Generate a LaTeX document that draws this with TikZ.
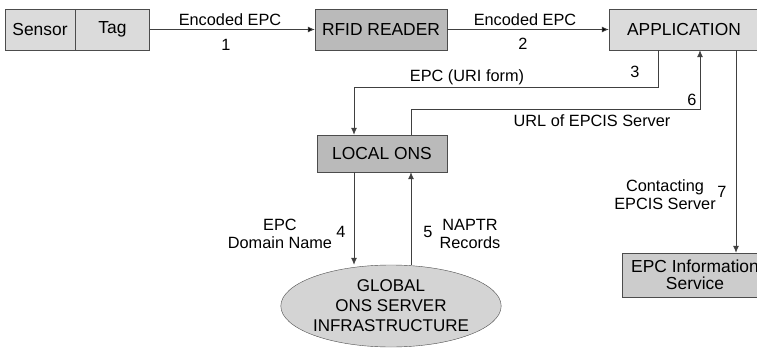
\documentclass[tikz,border=0pt]{standalone}
\usepackage{fontspec}
\setmainfont{Liberation Sans}
\usetikzlibrary{positioning, shapes.geometric, arrows.meta}

\begin{document}
\begin{tikzpicture}[x=1pt, y=-1pt,
	font=\fontsize{16.3}{18}\selectfont,
	b/.style={rectangle, draw=black!70, fill=black!14, minimum height=41pt, inner sep=0pt,
		font=\fontsize{17.4}{17}\selectfont},
	d/.style={b, fill=black!27},
	t/.style={inner sep=0pt, align=center},
	a/.style={->, draw=black!75, line width=0.8pt},
	>={Latex[length=7pt, width=6pt]}]
	\useasboundingbox (0,0) rectangle (757,350);

	\node[b, minimum width=70pt] (sensor) at (40,29.5) {Sensor};
	\node[b, minimum width=74pt, right=0pt of sensor] (tag) {Tag};
	\node[d, minimum width=132pt] (reader) at (381,29.5) {RFID READER};
	\node[b, minimum width=150pt] (app) at (684,29.5) {APPLICATION};
	\node[d, minimum width=130pt, minimum height=37pt] (local) at (382,153.5) {LOCAL ONS};
	\node[ellipse, draw=black!70, fill=black!17, inner sep=0pt, minimum width=204pt, minimum height=82pt,
		align=center, font=\fontsize{17}{20}\selectfont] (global) at (391,306) {GLOBAL\\ONS SERVER\\INFRASTRUCTURE};
	\node[d, fill=black!20, minimum width=146pt, minimum height=44pt, align=center] (epcis) at (695,275) {EPC Information\\Service};

	% labels
	\node[t] (e1) at (230,19.5) {Encoded EPC};
	\node[t] (n1) at (226,45) {1};
	\node[t] (e2) at (525,19.5) {Encoded EPC};
	\node[t] (n2) at (523,44) {2};
	\node[t] (uri) at (467,77) {EPC (URI form)};
	\node[t] (n3) at (635,72) {3};
	\node[t] (n6) at (692,100) {6};
	\node[t] (url) at (592,121) {URL of EPCIS Server};
	\node[t] (dom) at (280,234) {EPC\\Domain Name};
	\node[t] (n4) at (341,232) {4};
	\node[t] (n5) at (428,232) {5};
	\node[t] (rec) at (470,234) {NAPTR\\Records};
	\node[t] (cont) at (665,195) {Contacting\\EPCIS Server};
	\node[t] (n7) at (722,192) {7};

	\path[a] (tag) edge (reader);
	\path[a] (reader) edge (app);
	\draw[a] ([xshift=-26pt]app.south) -- ++(0,37) -| ([xshift=-28pt]local.north);
	\draw[a] ([xshift=29pt]local.north) -- ++(0,-25) -| ([xshift=16pt]app.south);
	\draw[a] ([xshift=-28pt]local.south) -- ([xshift=-28pt]local.south |- global.north);
	\draw[a] ([xshift=29pt]local.south |- global.north) -- ([xshift=29pt]local.south);
	\draw[a] ([xshift=52pt]app.south) -- ([xshift=52pt]app.south |- epcis.north);
\end{tikzpicture}
\end{document}
